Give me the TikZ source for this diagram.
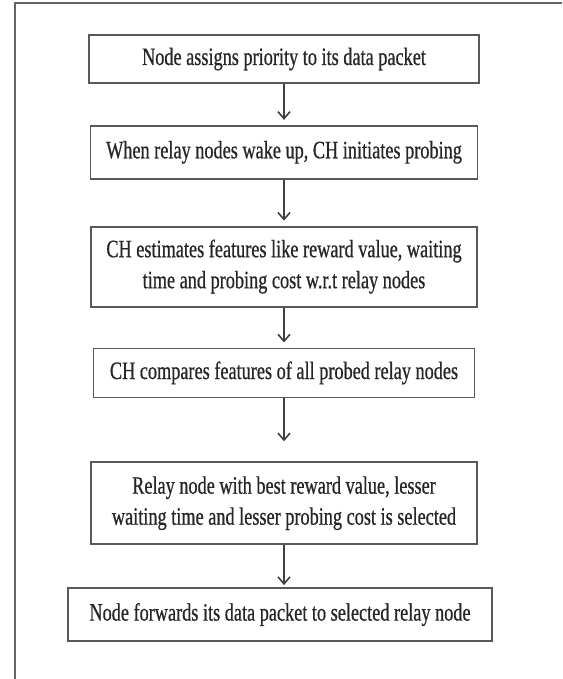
\documentclass[tikz,border=0pt]{standalone}
\usepackage{fontspec}
\newfontfamily\flowfont[FakeStretch=0.73,FakeBold=0.6]{Liberation Serif}
\usetikzlibrary{positioning}
\usetikzlibrary{arrows.meta}
\tikzset{
    stage/.style={draw=black!65, line width=1.8pt, fill=white, text=black!85,
		font=\flowfont\fontsize{25}{31}\selectfont, align=center,
		minimum height=#1, inner sep=2pt},
    link/.style={draw=black!75, line width=1.6pt,
		-{Straight Barb[length=7pt,width=12pt]}, shorten >=5pt}
}

\begin{document}
\begin{tikzpicture}[x=1pt,y=1pt]
        \useasboundingbox (0,0) rectangle (562,-679);
        % outer frame, cut at right and bottom
        \draw[black!60, line width=1.8pt] (15,-679) -- (15,-3) -- (562,-3);
        \node[stage=48pt, minimum width=390pt] (assign) at (284,-59) {Node assigns priority to its data packet};
        \node[stage=53pt, minimum width=387pt, below=41pt of assign] (probe) {When relay nodes wake up, CH initiates probing};
        \node[stage=80pt, minimum width=386pt, below=46pt of probe] (estimate) {CH estimates features like reward value, waiting\\time and probing cost w.r.t relay nodes};
        \node[stage=49pt, minimum width=381pt, below=40pt of estimate] (compare) {CH compares features of all probed relay nodes};
        \node[stage=82pt, minimum width=386pt, below=63pt of compare] (select) {Relay node with best reward value, lesser\\waiting time and lesser probing cost is selected};
        \node[stage=53pt, minimum width=424pt, below=42pt of select, xshift=-4pt] (forward) {Node forwards its data packet to selected relay node};
        \draw[link] (assign) -- (assign |- probe.north);
        \draw[link] (probe) -- (probe |- estimate.north);
        \draw[link] (estimate) -- (estimate |- compare.north);
        \draw[link, shorten >=20pt] (compare) -- (compare |- select.north);
        \draw[link, shorten >=2pt] (select) -- (select |- forward.north);
\end{tikzpicture}
\end{document}
